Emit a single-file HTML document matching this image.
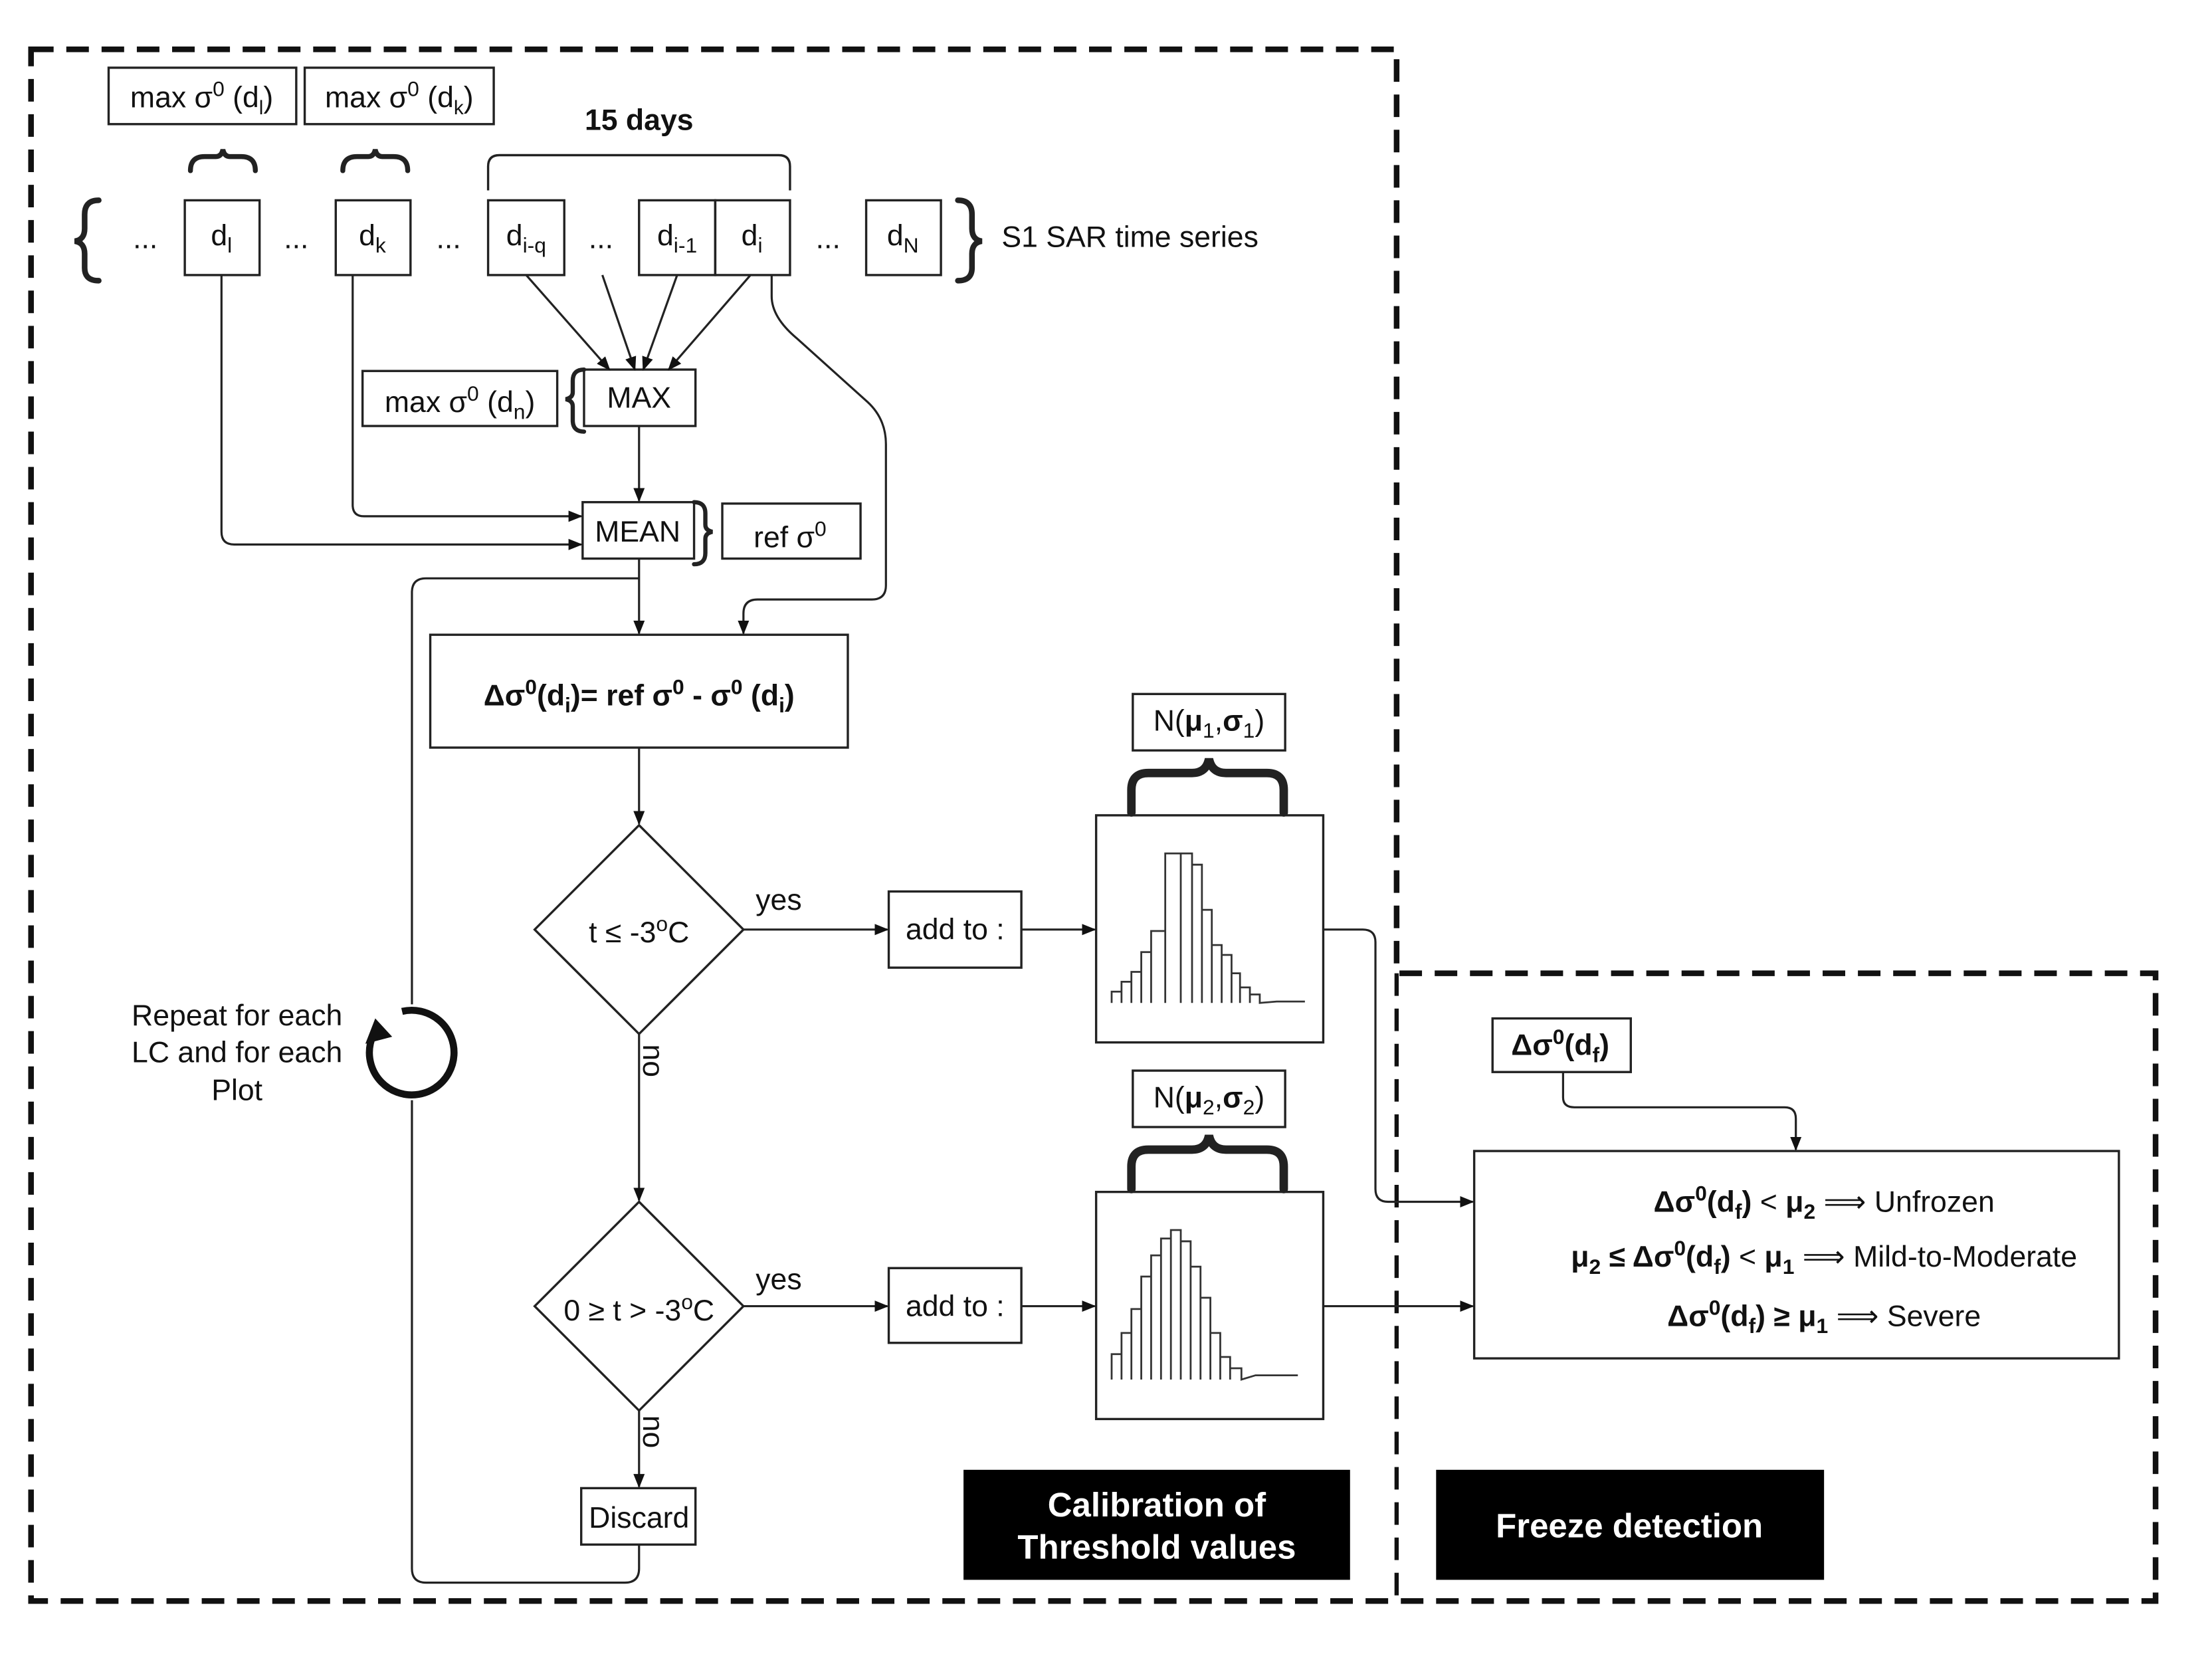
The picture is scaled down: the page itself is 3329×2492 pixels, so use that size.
<!DOCTYPE html>
<html><head><meta charset="utf-8"><style>
html,body{margin:0;padding:0;background:#fff}
svg{display:block}
text{font-family:"Liberation Sans",Arial,sans-serif;fill:#111}
</style></head><body>
<svg width="3329" height="2492" viewBox="0 0 1568 1174" preserveAspectRatio="none" xmlns="http://www.w3.org/2000/svg">
<defs><marker id="a" markerWidth="10" markerHeight="10" refX="9" refY="5" orient="auto" markerUnits="userSpaceOnUse"><path d="M0,1 L10,5 L0,9 Z" fill="#111"/></marker></defs>
<g fill="none" stroke="#111" stroke-width="4" stroke-dasharray="16,9">
<path d="M22,35 H990 V690 H1528 V1135 H22 Z"/>
<path d="M990,690 V1135" stroke-width="3"/>
</g>
<g fill="none" stroke="#222" stroke-width="1.6">
<rect x="77" y="48" width="133" height="40"/>
<rect x="216" y="48" width="134" height="40"/>
<path d="M346,135 V118 Q346,110 354,110 H552 Q560,110 560,118 V135"/>
<rect x="131" y="142" width="53" height="53"/>
<rect x="238" y="142" width="53" height="53"/>
<rect x="346" y="142" width="54" height="53"/>
<rect x="453" y="142" width="54" height="53"/>
<rect x="507" y="142" width="53" height="53"/>
<rect x="614" y="142" width="53" height="53"/>
<rect x="414" y="262" width="79" height="40"/>
<rect x="257" y="263" width="138" height="39"/>
<rect x="413" y="356" width="79" height="40"/>
<rect x="512" y="357" width="98" height="39"/>
<rect x="305" y="450" width="296" height="80"/>
<path d="M453,585 L527,659 L453,733 L379,659 Z"/>
<path d="M453,852 L527,926 L453,1000 L379,926 Z"/>
<rect x="412" y="1055" width="81" height="40"/>
<rect x="630" y="632" width="94" height="54"/>
<rect x="630" y="899" width="94" height="53"/>
<rect x="777" y="578" width="161" height="161"/>
<rect x="777" y="845" width="161" height="161"/>
<rect x="803" y="492" width="108" height="40"/>
<rect x="803" y="759" width="108" height="40"/>
<rect x="1045" y="816" width="457" height="147"/>
<rect x="1058" y="722" width="98" height="38"/>
</g>
<g fill="none" stroke="#222" stroke-width="4" stroke-linecap="round">
<path d="M135,121 Q135,111 145,111 L153,111 Q157,111 158,106 Q159,111 163,111 L171,111 Q181,111 181,121" stroke-width="3.5"/>
<path d="M243,121 Q243,111 253,111 L261,111 Q265,111 266,106 Q267,111 271,111 L279,111 Q289,111 289,121" stroke-width="3.5"/>
<path d="M70,142 Q60,142 60,152 L60,162 Q60,170 53,171 Q60,172 60,180 L60,190 Q60,199 70,199"/>
<path d="M679,142 Q689,142 689,152 L689,162 Q689,170 696,171 Q689,172 689,180 L689,190 Q689,199 679,199"/>
<path d="M414,262 Q406,262 406,270 L406,278 Q406,282 401,283 Q406,284 406,288 L406,298 Q406,306 414,306" stroke-width="3"/>
<path d="M492,356 Q500,356 500,364 L500,372 Q500,376 505,377 Q500,378 500,382 L500,392 Q500,400 492,400" stroke-width="3"/>
<path d="M802,576 V560 Q802,548 814,548 L845,548 Q855,548 857,538 Q859,548 869,548 L898,548 Q910,548 910,560 V576" stroke-width="6"/>
<path d="M802,843 V827 Q802,815 814,815 L845,815 Q855,815 857,805 Q859,815 869,815 L898,815 Q910,815 910,827 V843" stroke-width="6"/>
</g>
<g fill="none" stroke="#222" stroke-width="1.5">
<path d="M373,195 L432,262" marker-end="url(#a)"/>
<path d="M427,195 L450,262" marker-end="url(#a)"/>
<path d="M480,195 L456,262" marker-end="url(#a)"/>
<path d="M532,195 L474,262" marker-end="url(#a)"/>
<path d="M453,302 V355" marker-end="url(#a)"/>
<path d="M157,195 V377 Q157,386 166,386 H412" marker-end="url(#a)"/>
<path d="M250,195 V358 Q250,366 258,366 H412" marker-end="url(#a)"/>
<path d="M453,396 V449" marker-end="url(#a)"/>
<path d="M547,195 V210 Q547,225 565,240 L615,285 Q628,297 628,315 V415 Q628,425 618,425 H537 Q527,425 527,435 V449" marker-end="url(#a)"/>
<path d="M453,530 V584" marker-end="url(#a)"/>
<path d="M527,659 H629" marker-end="url(#a)"/>
<path d="M724,659 H776" marker-end="url(#a)"/>
<path d="M453,733 V851" marker-end="url(#a)"/>
<path d="M527,926 H629" marker-end="url(#a)"/>
<path d="M724,926 H776" marker-end="url(#a)"/>
<path d="M453,1000 V1054" marker-end="url(#a)"/>
<path d="M453,1095 V1112 Q453,1122 443,1122 H302 Q292,1122 292,1112 V780"/>
<path d="M292,712 V420 Q292,410 302,410 H453"/>
<path d="M938,659 H966 Q975,659 975,668 V843 Q975,852 984,852 H1044" marker-end="url(#a)"/>
<path d="M938,926 H1044" marker-end="url(#a)"/>
<path d="M1108,760 V778 Q1108,785 1116,785 H1265 Q1273,785 1273,793 V815" marker-end="url(#a)"/>
</g>
<path d="M268,728 A30,30 0 1 0 285,717" fill="none" stroke="#111" stroke-width="5"/>
<path d="M259,740 L266,722 L278,735 Z" fill="#111"/>
<g fill="none" stroke="#333" stroke-width="1.3">
<path d="M788,711 V703 H795 V711 M795,711 V696 H802 V711 M802,711 V689 H809 V711 M809,711 V675 H816 V711 M816,711 V660 H826 V711 M826,711 V605 H837 V711 M837,711 V605 H845 V711 M845,711 V613 H852 V711 M852,711 V645 H859 V711 M859,711 V670 H866 V711 M866,711 V677 H873 V711 M873,711 V690 H879 V711 M879,711 V700 H886 V711 M886,711 V705 H893 V711 L905,710 H925"/>
<path d="M788,978 V960 H795 V978 M795,978 V945 H802 V978 M802,978 V928 H809 V978 M809,978 V905 H816 V978 M816,978 V890 H823 V978 M823,978 V878 H830 V978 M830,978 V872 H837 V978 M837,978 V880 H844 V978 M844,978 V898 H851 V978 M851,978 V920 H858 V978 M858,978 V945 H865 V978 M865,978 V962 H872 V978 M872,978 V970 H880 V978 L890,975 H920"/>
</g>
<g font-size="21">
<text x="143" y="76" text-anchor="middle">max σ<tspan font-size="15" dy="-8">0</tspan><tspan dy="8"> (d</tspan><tspan font-size="14" dy="5">l</tspan><tspan dy="-5">)</tspan></text>
<text x="283" y="76" text-anchor="middle">max σ<tspan font-size="15" dy="-8">0</tspan><tspan dy="8"> (d</tspan><tspan font-size="14" dy="5">k</tspan><tspan dy="-5">)</tspan></text>
<text x="453" y="92" text-anchor="middle" font-weight="bold">15 days</text>
<text x="103" y="176" text-anchor="middle">...</text>
<text x="210" y="176" text-anchor="middle">...</text>
<text x="318" y="176" text-anchor="middle">...</text>
<text x="426" y="176" text-anchor="middle">...</text>
<text x="587" y="176" text-anchor="middle">...</text>
<text x="157" y="174" text-anchor="middle">d<tspan font-size="15" dy="5">l</tspan></text>
<text x="264" y="174" text-anchor="middle">d<tspan font-size="15" dy="5">k</tspan></text>
<text x="373" y="174" text-anchor="middle">d<tspan font-size="15" dy="5">i-q</tspan></text>
<text x="480" y="174" text-anchor="middle">d<tspan font-size="15" dy="5">i-1</tspan></text>
<text x="533" y="174" text-anchor="middle">d<tspan font-size="15" dy="5">i</tspan></text>
<text x="640" y="174" text-anchor="middle">d<tspan font-size="15" dy="5">N</tspan></text>
<text x="710" y="175">S1 SAR time series</text>
<text x="453" y="289" text-anchor="middle">MAX</text>
<text x="326" y="292" text-anchor="middle">max σ<tspan font-size="15" dy="-8">0</tspan><tspan dy="8"> (d</tspan><tspan font-size="15" dy="5">n</tspan><tspan dy="-5">)</tspan></text>
<text x="452" y="384" text-anchor="middle">MEAN</text>
<text x="560" y="388" text-anchor="middle">ref σ<tspan font-size="15" dy="-8">0</tspan></text>
<text x="453" y="500" text-anchor="middle" font-weight="bold">Δσ<tspan font-size="15" dy="-8">0</tspan><tspan dy="8">(d</tspan><tspan font-size="15" dy="5">i</tspan><tspan dy="-5">)= ref σ</tspan><tspan font-size="15" dy="-8">0</tspan><tspan dy="8"> - σ</tspan><tspan font-size="15" dy="-8">0</tspan><tspan dy="8"> (d</tspan><tspan font-size="15" dy="5">i</tspan><tspan dy="-5">)</tspan></text>
<text x="453" y="668" text-anchor="middle">t ≤ -3<tspan font-size="15" dy="-8">o</tspan><tspan dy="8">C</tspan></text>
<text x="453" y="936" text-anchor="middle">0 ≥ t &gt; -3<tspan font-size="15" dy="-8">o</tspan><tspan dy="8">C</tspan></text>
<text x="552" y="645" text-anchor="middle">yes</text>
<text x="552" y="914" text-anchor="middle">yes</text>
<text x="456" y="752" text-anchor="middle" transform="rotate(90 456 752)">no</text>
<text x="456" y="1015" text-anchor="middle" transform="rotate(90 456 1015)">no</text>
<text x="453" y="1083" text-anchor="middle">Discard</text>
<text x="677" y="666" text-anchor="middle">add to :</text>
<text x="677" y="933" text-anchor="middle">add to :</text>
<text x="857" y="518" text-anchor="middle">N(<tspan font-weight="bold">μ</tspan><tspan font-size="15" dy="5">1</tspan><tspan dy="-5">,</tspan><tspan font-weight="bold">σ</tspan><tspan font-size="15" dy="5">1</tspan><tspan dy="-5">)</tspan></text>
<text x="857" y="785" text-anchor="middle">N(<tspan font-weight="bold">μ</tspan><tspan font-size="15" dy="5">2</tspan><tspan dy="-5">,</tspan><tspan font-weight="bold">σ</tspan><tspan font-size="15" dy="5">2</tspan><tspan dy="-5">)</tspan></text>
<text x="168" y="727" text-anchor="middle">Repeat for each</text>
<text x="168" y="753" text-anchor="middle">LC and for each</text>
<text x="168" y="780" text-anchor="middle">Plot</text>
<text x="1106" y="748" text-anchor="middle" font-weight="bold">Δσ<tspan font-size="15" dy="-8">0</tspan><tspan dy="8">(d</tspan><tspan font-size="15" dy="5">f</tspan><tspan dy="-5">)</tspan></text>
<text x="1293" y="859" text-anchor="middle"><tspan font-weight="bold">Δσ</tspan><tspan font-weight="bold" font-size="15" dy="-8">0</tspan><tspan font-weight="bold" dy="8">(d</tspan><tspan font-weight="bold" font-size="15" dy="5">f</tspan><tspan font-weight="bold" dy="-5">)</tspan> &lt; <tspan font-weight="bold">μ</tspan><tspan font-weight="bold" font-size="15" dy="5">2</tspan><tspan dy="-5"> ⟹ Unfrozen</tspan></text>
<text x="1293" y="898" text-anchor="middle"><tspan font-weight="bold">μ</tspan><tspan font-weight="bold" font-size="15" dy="5">2</tspan><tspan font-weight="bold" dy="-5"> ≤ Δσ</tspan><tspan font-weight="bold" font-size="15" dy="-8">0</tspan><tspan font-weight="bold" dy="8">(d</tspan><tspan font-weight="bold" font-size="15" dy="5">f</tspan><tspan font-weight="bold" dy="-5">)</tspan> &lt; <tspan font-weight="bold">μ</tspan><tspan font-weight="bold" font-size="15" dy="5">1</tspan><tspan dy="-5"> ⟹ Mild-to-Moderate</tspan></text>
<text x="1293" y="940" text-anchor="middle"><tspan font-weight="bold">Δσ</tspan><tspan font-weight="bold" font-size="15" dy="-8">0</tspan><tspan font-weight="bold" dy="8">(d</tspan><tspan font-weight="bold" font-size="15" dy="5">f</tspan><tspan font-weight="bold" dy="-5">) ≥ μ</tspan><tspan font-weight="bold" font-size="15" dy="5">1</tspan><tspan dy="-5"> ⟹ Severe</tspan></text>
</g>
<rect x="683" y="1042" width="274" height="78" fill="#000"/>
<rect x="1018" y="1042" width="275" height="78" fill="#000"/>
<g font-size="24" font-weight="bold" text-anchor="middle">
<text x="820" y="1075" style="fill:#fff">Calibration of</text>
<text x="820" y="1105" style="fill:#fff">Threshold values</text>
<text x="1155" y="1090" style="fill:#fff">Freeze detection</text>
</g>
</svg>
</body></html>
